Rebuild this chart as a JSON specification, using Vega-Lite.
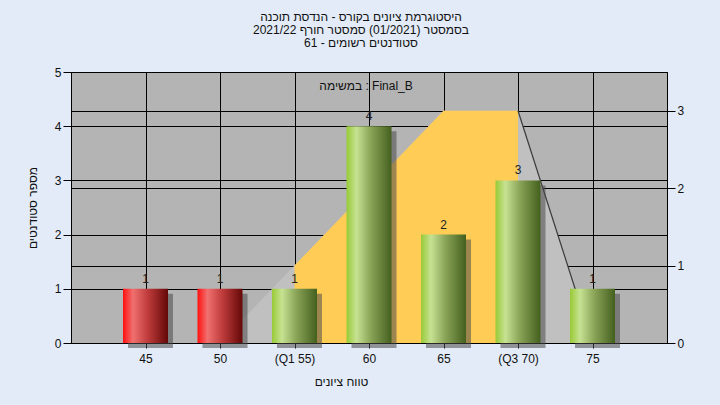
{
  "$schema": "https://vega.github.io/schema/vega-lite/v6.json",
  "width": 596,
  "height": 271,
  "autosize": {"type": "none"},
  "padding": {"left": 71, "top": 72, "right": 53, "bottom": 62},
  "background": "#e2ebf7",
  "config": {
    "font": "Liberation Sans",
    "view": {"fill": "#b4b4b4", "stroke": "#000000", "strokeWidth": 1},
    "axis": {
      "labelFont": "Liberation Sans", "labelFontSize": 12, "labelColor": "#111111",
      "titleFont": "Liberation Sans", "titleFontSize": 12, "titleFontWeight": "normal", "titleColor": "#111111",
      "domainColor": "#000000", "tickColor": "#000000", "gridColor": "#000000", "gridOpacity": 1, "gridWidth": 1
    }
  },
  "title": {
    "text": ["היסטוגרמת ציונים בקורס - הנדסת תוכנה", "בסמסטר  (01/2021)  סמסטר חורף 2021/22", "סטודנטים רשומים - 61"],
    "anchor": "middle", "frame": "group", "dx": -8, "offset": 16,
    "fontSize": 12, "fontWeight": "normal", "lineHeight": 13, "color": "#111111", "font": "Liberation Sans"
  },
  "datasets": {
    "bars": [
      {"g": 45, "c": 1}, {"g": 50, "c": 1}, {"g": 55, "c": 1}, {"g": 60, "c": 4},
      {"g": 65, "c": 2}, {"g": 70, "c": 3}, {"g": 75, "c": 1}
    ],
    "whole": [
      {"g": 50, "v": 0}, {"g": 55, "v": 1}, {"g": 60, "v": 2}, {"g": 65, "v": 3}, {"g": 70, "v": 3}, {"g": 75, "v": 0}
    ],
    "box": [
      {"g": 55, "v": 1}, {"g": 60, "v": 2}, {"g": 65, "v": 3}, {"g": 70, "v": 3}
    ],
    "tail": [
      {"g": 70, "v": 3}, {"g": 75, "v": 0}
    ]
  },
  "encoding": {
    "x": {
      "field": "g", "type": "quantitative",
      "scale": {"domain": [40, 80], "nice": false, "zero": false, "padding": 0},
      "axis": {
        "values": [45, 50, 55, 60, 65, 70, 75],
        "labelExpr": "datum.value == 55 ? '(Q1 55)' : datum.value == 70 ? '(Q3 70)' : datum.label",
        "grid": true, "tickSize": 5, "labelPadding": 5,
        "title": "טווח ציונים", "titleX": 270, "titleY": 42, "titleBaseline": "alphabetic", "titleAnchor": "middle"
      }
    }
  },
  "layer": [
    {
      "encoding": {
        "y": {
          "field": "v", "type": "quantitative",
          "scale": {"domain": [0, 3.5], "nice": false},
          "axis": {"orient": "right", "values": [0, 1, 2, 3], "grid": true, "tickSize": 8, "labelPadding": 2, "title": null}
        }
      },
      "layer": [
        {"data": {"name": "whole"}, "mark": {"type": "area", "color": "#c0c0c0", "opacity": 1}},
        {"data": {"name": "box"}, "mark": {"type": "area", "color": "#ffcc55", "opacity": 1}},
        {"data": {"name": "tail"}, "mark": {"type": "line", "color": "#3a3a3a", "strokeWidth": 1.2}}
      ]
    },
    {
      "data": {"name": "bars"},
      "encoding": {
        "y": {
          "field": "c", "type": "quantitative",
          "scale": {"domain": [0, 5], "nice": false},
          "axis": {"orient": "left", "values": [0, 1, 2, 3, 4, 5], "grid": true, "tickSize": 8, "labelPadding": 2, "title": "מספר סטודנטים", "titlePadding": 15}
        }
      },
      "layer": [
        {"mark": {"type": "bar", "size": 45, "xOffset": 5, "yOffset": 5, "color": "#4a4a4a", "opacity": 0.55}},
        {
          "transform": [{"filter": "datum.g < 55"}],
          "mark": {"type": "bar", "size": 45, "color": {"gradient": "linear", "x1": 0, "y1": 0, "x2": 1, "y2": 0,
            "stops": [{"offset": 0, "color": "#ff1010"}, {"offset": 0.22, "color": "#f07070"}, {"offset": 0.55, "color": "#c03c3c"}, {"offset": 1, "color": "#640808"}]}}
        },
        {
          "transform": [{"filter": "datum.g >= 55"}],
          "mark": {"type": "bar", "size": 45, "color": {"gradient": "linear", "x1": 0, "y1": 0, "x2": 1, "y2": 0,
            "stops": [{"offset": 0, "color": "#98ca36"}, {"offset": 0.22, "color": "#c6e292"}, {"offset": 0.55, "color": "#88a256"}, {"offset": 1, "color": "#44601e"}]}}
        },
        {
          "mark": {"type": "text", "baseline": "alphabetic", "dy": -6, "fontSize": 12, "color": "#222222"},
          "encoding": {"text": {"field": "c", "type": "quantitative"}}
        },
        {
          "transform": [{"filter": "datum.g == 60"}],
          "mark": {"type": "text", "text": "במשימה : Final_B", "fontSize": 12, "color": "#111111", "baseline": "middle"},
          "encoding": {"x": {"datum": 59.8}, "y": {"datum": 4.74}}
        }
      ]
    }
  ],
  "resolve": {"scale": {"y": "independent"}}
}
